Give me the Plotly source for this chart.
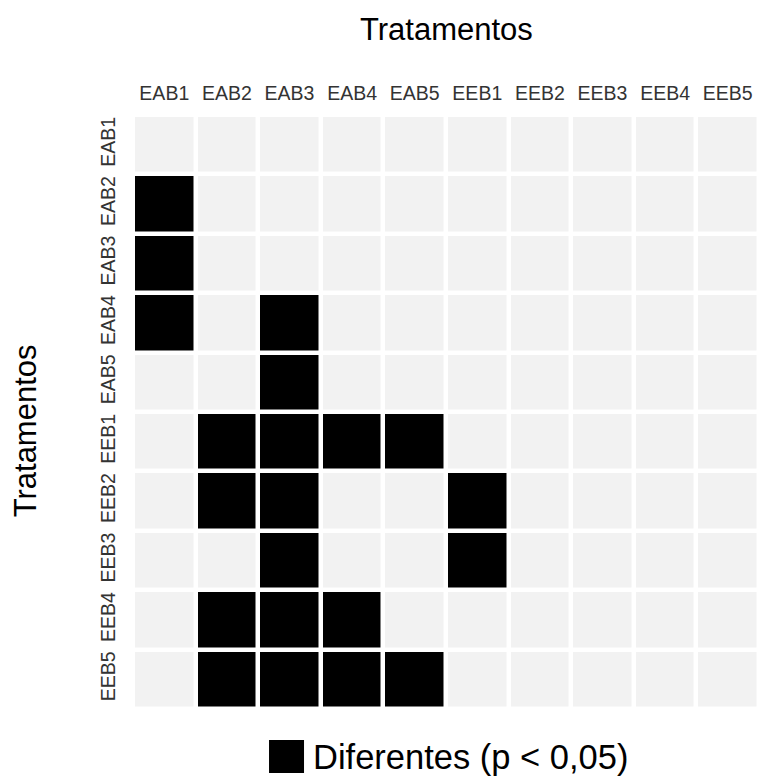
import plotly.graph_objects as go

# treatments (same order on both axes)
tratamentos = ['EAB1', 'EAB2', 'EAB3', 'EAB4', 'EAB5',
               'EEB1', 'EEB2', 'EEB3', 'EEB4', 'EEB5']

# 1 = diferentes (p < 0,05), 0 = not different; rows = y, cols = x
diferentes = [
    [0, 0, 0, 0, 0, 0, 0, 0, 0, 0],  # EAB1
    [1, 0, 0, 0, 0, 0, 0, 0, 0, 0],  # EAB2
    [1, 0, 0, 0, 0, 0, 0, 0, 0, 0],  # EAB3
    [1, 0, 1, 0, 0, 0, 0, 0, 0, 0],  # EAB4
    [0, 0, 1, 0, 0, 0, 0, 0, 0, 0],  # EAB5
    [0, 1, 1, 1, 1, 0, 0, 0, 0, 0],  # EEB1
    [0, 1, 1, 0, 0, 1, 0, 0, 0, 0],  # EEB2
    [0, 0, 1, 0, 0, 1, 0, 0, 0, 0],  # EEB3
    [0, 1, 1, 1, 0, 0, 0, 0, 0, 0],  # EEB4
    [0, 1, 1, 1, 1, 0, 0, 0, 0, 0],  # EEB5
]

legend_text = 'Diferentes (p < 0,05)'
font_family = 'Liberation Sans, Arial, sans-serif'

fig = go.Figure(go.Heatmap(
    z=diferentes,
    x=tratamentos,
    y=tratamentos,
    colorscale=[[0, '#f2f2f2'], [1, '#000000']],
    zmin=0, zmax=1,
    showscale=False,
    xgap=4.5,
    ygap=4.5,
    hovertemplate='%{x} x %{y}<extra></extra>'
))

fig.update_layout(
    width=759,
    height=778,
    margin={'l': 133, 'r': 0, 't': 115, 'b': 69},
    paper_bgcolor='white',
    plot_bgcolor='white',
    font={'family': font_family, 'color': '#222222'},
    showlegend=False
)

fig.update_xaxes(
    side='top',
    showgrid=False,
    zeroline=False,
    ticks='',
    tickfont={'size': 19.5, 'color': '#333333'},
    ticklabelstandoff=10
)
fig.update_yaxes(
    autorange='reversed',
    showgrid=False,
    zeroline=False,
    ticks='',
    tickangle=-90,
    tickfont={'size': 19.5, 'color': '#333333'},
    ticklabelstandoff=13
)

# axis titles
fig.add_annotation(text='Tratamentos', xref='paper', yref='paper',
                   x=0.5, y=1.144, xanchor='center', yanchor='middle',
                   showarrow=False, font={'size': 31, 'color': '#000000'})
fig.add_annotation(text='Tratamentos', xref='paper', yref='paper',
                   x=-0.172, y=0.468, xanchor='center', yanchor='middle',
                   textangle=-90, showarrow=False,
                   font={'size': 31, 'color': '#000000'})

# legend key
fig.add_shape(type='rect', xref='paper', yref='paper',
              x0=0.2173, x1=0.2732, y0=-0.1077, y1=-0.0522,
              fillcolor='#000000', line={'width': 0})
fig.add_annotation(text=legend_text, xref='paper', yref='paper',
                   x=0.2843, y=-0.0808, xanchor='left', yanchor='middle',
                   showarrow=False, font={'size': 34.5, 'color': '#000000'})

# drop the default page margin so the figure fills the window exactly
fig.write_html('out.html',
               config={'displayModeBar': False},
               post_script="document.body.style.margin='0';document.body.style.overflow='hidden';")
